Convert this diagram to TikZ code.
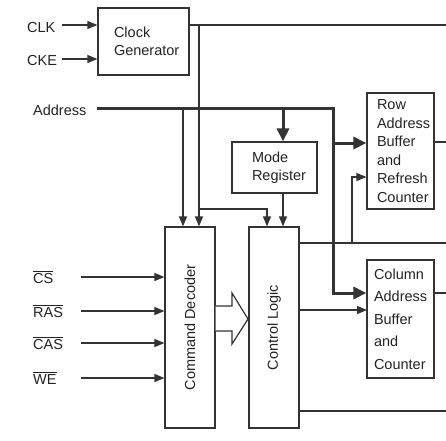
\documentclass[tikz,border=0pt]{standalone}
\usepackage{fontspec}
\setmainfont{Liberation Sans}
\usetikzlibrary{arrows.meta}
\definecolor{ln}{HTML}{333333}
\definecolor{txt}{HTML}{222222}
\newcommand\ovl[1]{$\overline{\hbox{#1}}$}
\begin{document}
\begin{tikzpicture}[x=1pt,y=-1pt,
  every node/.style={font=\fontsize{14.5}{18.5}\selectfont, text=txt},
  box/.style={draw=ln, line width=1.2pt, inner sep=0pt},
  ln1/.style={draw=ln, line width=1.2pt},
  mid/.style={draw=ln, line width=2pt},
  thk/.style={draw=ln, line width=3pt},
  arr/.style={ln1, -{Triangle[length=10pt,width=8pt]}},
  tarr/.style={thk, -{Triangle[length=13pt,width=12pt]}},
  lbl/.style={anchor=base west, inner sep=0pt},
]
\useasboundingbox (0,0) rectangle (446,440);

% boxes
\node[box, minimum width=91pt, minimum height=67pt, text width=59pt, inner xsep=16pt, align=left] (cg) at (143.5,41.5) {Clock\\Generator};
\node[box, minimum width=85pt, minimum height=51pt, text width=45pt, inner xsep=20pt, align=left] (mr) at (274.5,167.5) {Mode\\Register};
\node[box, minimum width=67pt, minimum height=116pt, text width=47pt, inner xsep=10pt, align=left] (rb) at (400.5,151) {Row\\Address\\Buffer\\and\\Refresh\\Counter};
\node[box, minimum width=67pt, minimum height=118pt, text width=53pt, inner xsep=7pt, align=left, font=\fontsize{14.5}{22.5}\selectfont] (cb) at (400.5,319) {Column\\Address\\Buffer\\and\\Counter};
\node[box, minimum width=50pt, minimum height=201pt, label={[rotate=90]center:Command Decoder}] (cd) at (190,327.5) {};
\node[box, minimum width=50pt, minimum height=201pt, label={[rotate=90]center:Control Logic}] (cl) at (274,327.5) {};

% labels
\node[lbl] (clk) at (27,32) {CLK};
\node[lbl] (cke) at (27,65) {CKE};
\node[lbl] (addr) at (33,115.5) {Address};
\node[lbl] (cs) at (33,283) {\ovl{CS}};
\node[lbl] (ras) at (33,317) {\ovl{RAS}};
\node[lbl] (cas) at (33,349) {\ovl{CAS}};
\node[lbl] (we) at (33,384) {\ovl{WE}};

% coordinates
\coordinate (clkA) at (62,25);
\coordinate (ckeA) at (62,59);
\coordinate (csA) at (81,277);
\coordinate (rasA) at (81,311);
\coordinate (casA) at (81,343);
\coordinate (weA) at (81,378);
\coordinate (j1) at (199,25);
\coordinate (j2) at (199,209);
\coordinate (j3) at (267,209);
\coordinate (r1) at (446,25);
\coordinate (a0) at (97,108);
\coordinate (a1) at (333,108);
\coordinate (a2) at (333,293);
\coordinate (a3) at (333,143);
\coordinate (a4) at (283,108);
\coordinate (a5) at (183,108);
\coordinate (r2) at (446,142);
\coordinate (r3) at (446,243);
\coordinate (c2) at (352,243);
\coordinate (c3) at (352,177);
\coordinate (cin) at (367,310);
\coordinate (r4) at (446,411);
\coordinate (r5) at (446,293);

% clock inputs
\draw[arr] (clkA) -- (clkA -| cg.west);
\draw[arr] (ckeA) -- (ckeA -| cg.west);

% clock output
\draw[ln1] (j1 -| cg.east) -- (r1);
\draw[arr] (j1) -- (j1 |- cd.north);
\draw[arr] (j2) -- (j3) -- (j3 |- cl.north);

% address bus
\draw[tarr] (a0) -- (a1) -- (a2) -- (a2 -| cb.west);
\draw[tarr] (a3) -- (a3 -| rb.west);
\draw[tarr] (a4) -- (a4 |- mr.north);
\draw[arr] (a5) -- (a5 |- cd.north);

% mode register to control logic
\draw[arr] (a4 |- mr.south) -- (a4 |- cl.north);

% control logic outputs
\draw[ln1] (cl.east |- r3) -- (r3);
\draw[arr] (c2) -- (c3) -- (c3 -| rb.west);
\draw[arr] (cl.east |- cin) -- (cin);
\draw[ln1] (cl.east |- r4) -- (r4);

% buffer outputs
\draw[mid] (rb.east |- r2) -- (r2);
\draw[mid] (cb.east |- r5) -- (r5);

% command inputs
\draw[arr] (csA) -- (csA -| cd.west);
\draw[arr] (rasA) -- (rasA -| cd.west);
\draw[arr] (casA) -- (casA -| cd.west);
\draw[arr] (weA) -- (weA -| cd.west);

% hollow arrow
\draw[ln1, fill=white, line join=miter] (215.6,306) -- (232,306) -- (232,293) -- (248,319) -- (232,344) -- (232,331) -- (215.6,331);
\end{tikzpicture}
\end{document}
